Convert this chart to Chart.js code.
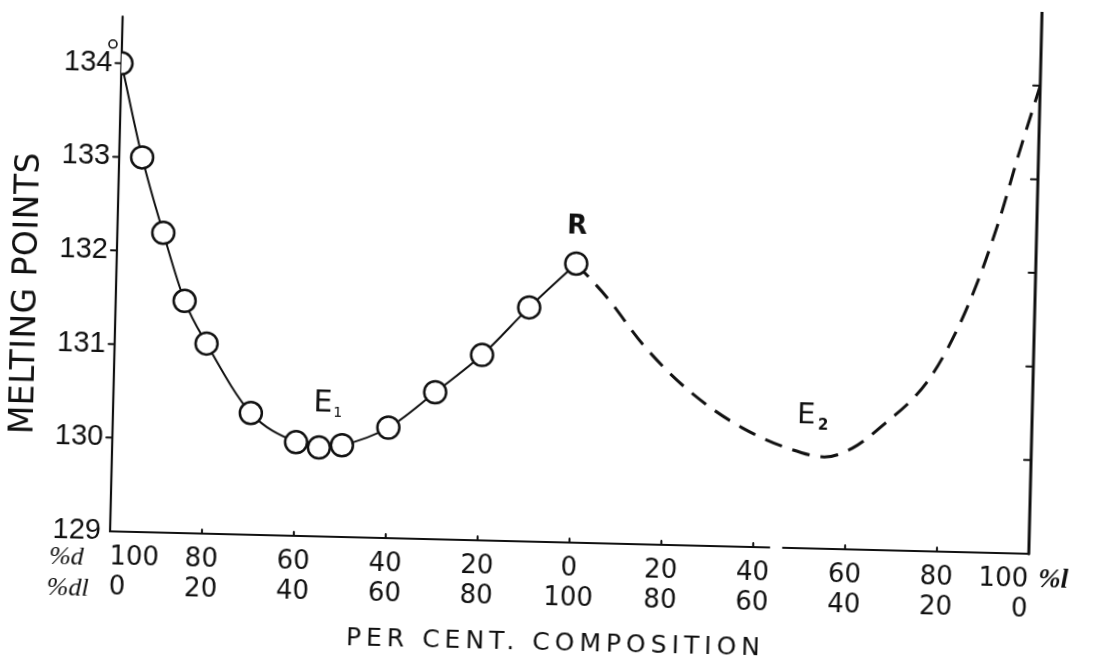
<!DOCTYPE html>
<html>
<head>
<meta charset="utf-8">
<script src="https://cdn.jsdelivr.net/npm/chart.js@4"></script>
<style>
  html, body { margin: 0; padding: 0; background: #fff; overflow: hidden; }
  #wrap { width: 1097px; height: 669px; transform: rotate(1.4deg); transform-origin: 50% 50%; }
</style>
</head>
<body>
<div id="wrap"><canvas id="chart" width="1097" height="669"></canvas></div>
<script>
// composition axis: 0 = 100 % d, 100 = pure dl, 200 = 100 % l
const xTicks = [0, 20, 40, 60, 80, 100, 120, 140, 160, 180, 200];
const pctD = ['100', '80', '60', '40', '20', '0', '20', '40', '60', '80', '100'];
const pctDL = ['0', '20', '40', '60', '80', '100', '80', '60', '40', '20', '0'];
const yTicks = [129, 130, 131, 132, 133, 134];

// observed melting points, d + dl side
const obsX = [0, 5, 10, 15, 20, 30, 40, 45, 50, 60, 70, 80, 90, 100];
const obsY = [134.0, 133.0, 132.2, 131.48, 131.03, 130.3, 130.0, 129.95, 129.98, 130.18, 130.57, 130.98, 131.5, 131.98];

// dl + l side, drawn dashed
const estX = [100, 107, 115, 125, 137, 150, 155, 161, 167, 177, 183, 188, 192, 195.5, 200];
const estY = [131.98, 131.62, 131.13, 130.66, 130.27, 130.02, 129.98, 130.08, 130.31, 130.81, 131.35, 131.97, 132.59, 133.23, 134.0];

const INK = '#111';

const decor = {
    id: 'decor',
    beforeDraw(chart) {
        const ctx = chart.ctx;
        ctx.save();
        ctx.fillStyle = '#fff';
        ctx.fillRect(0, 0, chart.width, chart.height);
        ctx.restore();
    },
    beforeDatasetsDraw(chart) {
        const { ctx, chartArea: a, scales: { x, y } } = chart;
        ctx.save();
        ctx.strokeStyle = INK;
        ctx.lineCap = 'round';

        // frame: left and bottom axis, bottom one has a small break
        ctx.lineWidth = 2.2;
        ctx.beginPath();
        ctx.moveTo(a.left, a.top);
        ctx.lineTo(a.left, a.bottom);
        ctx.lineTo(x.getPixelForValue(143.5), a.bottom);
        ctx.moveTo(x.getPixelForValue(146.5), a.bottom);
        ctx.lineTo(a.right, a.bottom);
        ctx.stroke();

        ctx.lineWidth = 3;
        ctx.beginPath();
        ctx.moveTo(a.right, a.bottom);
        ctx.lineTo(a.right, a.top - 27);
        ctx.stroke();

        // tick marks
        ctx.lineWidth = 2;
        ctx.beginPath();
        yTicks.slice(1).forEach(v => {
            const py = y.getPixelForValue(v);
            ctx.moveTo(a.left - 6, py);
            ctx.lineTo(a.left, py);
            ctx.moveTo(a.right - 7, py);
            ctx.lineTo(a.right, py);
        });
        xTicks.slice(1, -1).forEach(v => {
            const px = x.getPixelForValue(v);
            ctx.moveTo(px, a.bottom);
            ctx.lineTo(px, a.bottom - 4);
        });
        ctx.stroke();
        ctx.restore();
    },
    afterDraw(chart) {
        const { ctx, chartArea: a, scales: { x, y } } = chart;
        ctx.save();
        ctx.fillStyle = INK;
        ctx.strokeStyle = INK;

        // degree mark on the top label
        ctx.lineWidth = 1.6;
        ctx.beginPath();
        ctx.arc(a.left - 9, y.getPixelForValue(134) - 19, 4, 0, Math.PI * 2);
        ctx.stroke();

        ctx.textAlign = 'center';
        ctx.textBaseline = 'middle';

        // E1 eutectic
        let px = x.getPixelForValue(45) + 3;
        let py = y.getPixelForValue(129.95) - 44;
        ctx.font = '30px "DejaVu Sans"';
        ctx.fillText('E', px, py);
        ctx.font = '14px "DejaVu Sans"';
        ctx.fillText('1', px + 15, py + 9);

        // racemic compound
        ctx.font = 'bold 26px "DejaVu Sans"';
        ctx.fillText('R', x.getPixelForValue(100), y.getPixelForValue(131.98) - 37);

        // E2 eutectic
        px = x.getPixelForValue(155) - 19;
        py = y.getPixelForValue(129.98) - 41;
        ctx.font = '29px "DejaVu Sans"';
        ctx.fillText('E', px, py);
        ctx.font = 'bold 15px "DejaVu Sans"';
        ctx.fillText('2', px + 17, py + 10);

        // row captions of the composition axis
        ctx.font = 'italic 26px "Liberation Serif"';
        ctx.fillText('%d', 72, a.bottom + 27);
        ctx.fillText('%dl', 74, a.bottom + 58);
        ctx.font = 'italic bold 27px "Liberation Serif"';
        ctx.textAlign = 'left';
        ctx.fillText('%l', a.right + 10, a.bottom + 26);

        // axis titles
        ctx.textAlign = 'center';
        ctx.font = '25px "DejaVu Sans"';
        ctx.letterSpacing = '5px';
        ctx.fillText('PER CENT. COMPOSITION', 563, 643);
        ctx.letterSpacing = '0.5px';
        ctx.font = '33px "DejaVu Sans"';
        ctx.translate(26, 306);
        ctx.rotate(-Math.PI / 2);
        ctx.fillText('MELTING POINTS', 0, 0);
        ctx.restore();
    }
};

new Chart(document.getElementById('chart'), {
    type: 'line',
    data: {
        datasets: [{
            label: 'observed',
            data: obsX.map((v, i) => ({ x: v, y: obsY[i] })),
            borderColor: INK,
            borderWidth: 2,
            cubicInterpolationMode: 'monotone',
            pointRadius: 11,
            pointBorderWidth: 2.5,
            pointBorderColor: INK,
            pointBackgroundColor: '#fff'
        }, {
            label: 'dl + l',
            data: estX.map((v, i) => ({ x: v, y: estY[i] })),
            borderColor: INK,
            borderWidth: 3,
            borderDash: [18, 11],
            cubicInterpolationMode: 'monotone',
            pointRadius: 0
        }]
    },
    options: {
        responsive: false,
        animation: false,
        layout: { padding: { top: 27, right: 63, left: 0, bottom: 0 } },
        plugins: {
            legend: { display: false },
            tooltip: { enabled: false }
        },
        scales: {
            x: {
                type: 'linear',
                min: 0,
                max: 200,
                afterBuildTicks: ax => { ax.ticks = xTicks.map(v => ({ value: v })); },
                afterFit: ax => { ax.height = 127; },
                grid: { display: false, drawTicks: false },
                border: { display: false },
                ticks: {
                    align: 'inner',
                    padding: 11,
                    color: INK,
                    autoSkip: false,
                    maxRotation: 0,
                    font: { family: '"DejaVu Sans"', size: 26, lineHeight: 1.15 },
                    callback: (v, i) => [pctD[i], pctDL[i]]
                }
            },
            y: {
                min: 129,
                max: 134.5,
                afterBuildTicks: ax => { ax.ticks = yTicks.map(v => ({ value: v })); },
                afterFit: ax => { ax.width = 115; },
                grid: { display: false, drawTicks: false },
                border: { display: false },
                ticks: {
                    padding: 9,
                    color: INK,
                    font: { family: '"Liberation Sans"', size: 29 },
                    callback: v => String(v)
                }
            }
        }
    },
    plugins: [decor]
});
</script>
</body>
</html>
